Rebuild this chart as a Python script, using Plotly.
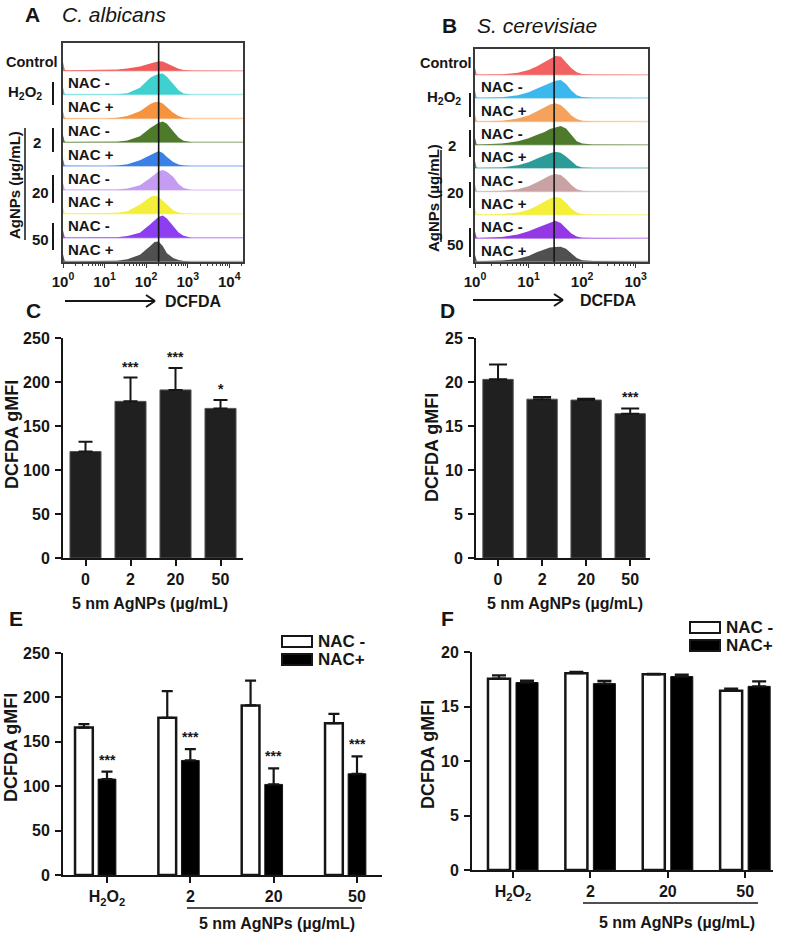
import plotly.graph_objects as go

W, H = 786, 936
FONT = "Liberation Sans, Arial, Helvetica, sans-serif"
INK = "#161616"

# ------------------------------------------------------------------ data
ROW_NAC = ["NAC -", "NAC +", "NAC -", "NAC +", "NAC -", "NAC +", "NAC -", "NAC +"]

# Panel A (C. albicans) flow histograms: log10(DCFDA) grid and normalised heights per row
A_LOGX = [0.0, 0.04, 0.08, 1.0, 1.3, 1.55, 1.85, 2.1, 2.2, 2.3, 2.4, 2.5, 2.65, 2.78, 2.9, 3.1, 4.33]
A_CONTROL = [0.35, 0.05, 0.02, 0.02, 0.05, 0.09, 0.17, 0.30, 0.36, 0.40, 0.38, 0.30, 0.16, 0.08, 0.03, 0.01, 0.0]
A_H2O2_NACM = [0.30, 0.03, 0.01, 0.0, 0.01, 0.05, 0.28, 0.70, 0.80, 0.86, 0.88, 0.75, 0.42, 0.18, 0.04, 0.0, 0.0]
A_H2O2_NACP = [0.30, 0.03, 0.01, 0.0, 0.03, 0.10, 0.30, 0.60, 0.68, 0.70, 0.62, 0.48, 0.24, 0.10, 0.03, 0.0, 0.0]
A_AG2_NACM = [0.30, 0.03, 0.01, 0.0, 0.02, 0.07, 0.25, 0.60, 0.72, 0.82, 0.87, 0.78, 0.46, 0.20, 0.06, 0.0, 0.0]
A_AG2_NACP = [0.30, 0.03, 0.01, 0.0, 0.03, 0.08, 0.24, 0.45, 0.55, 0.63, 0.55, 0.38, 0.17, 0.07, 0.02, 0.0, 0.0]
A_AG20_NACM = [0.30, 0.03, 0.01, 0.0, 0.02, 0.06, 0.20, 0.50, 0.65, 0.78, 0.84, 0.76, 0.55, 0.25, 0.08, 0.0, 0.0]
A_AG20_NACP = [0.30, 0.03, 0.01, 0.01, 0.04, 0.11, 0.39, 0.70, 0.77, 0.70, 0.55, 0.39, 0.15, 0.06, 0.02, 0.0, 0.0]
A_AG50_NACM = [0.30, 0.03, 0.01, 0.0, 0.02, 0.07, 0.21, 0.56, 0.72, 0.88, 0.93, 0.80, 0.49, 0.22, 0.08, 0.0, 0.0]
A_AG50_NACP = [0.30, 0.03, 0.01, 0.01, 0.03, 0.10, 0.28, 0.65, 0.82, 0.84, 0.65, 0.35, 0.15, 0.06, 0.02, 0.0, 0.0]
A_COLORS = ["#f05c5c", "#3fd0d0", "#f59340", "#4e7a2c", "#3a80e6", "#c49cf2", "#f3ef3a", "#8b3ff0", "#505050"]
A_GATE = 200
A_TICKS = [1, 10, 100, 1000, 10000]

# Panel B (S. cerevisiae)
B_LOGX = [0.0, 0.03, 0.06, 0.5, 0.8, 1.0, 1.15, 1.3, 1.4, 1.5, 1.6, 1.7, 1.8, 1.9, 2.0, 2.2, 3.23]
B_CONTROL = [0.30, 0.03, 0.01, 0.02, 0.08, 0.20, 0.35, 0.55, 0.70, 0.80, 0.78, 0.55, 0.28, 0.10, 0.03, 0.01, 0.0]
B_H2O2_NACM = [0.30, 0.03, 0.01, 0.03, 0.12, 0.25, 0.40, 0.55, 0.62, 0.74, 0.77, 0.60, 0.32, 0.12, 0.04, 0.01, 0.0]
B_H2O2_NACP = [0.30, 0.03, 0.01, 0.03, 0.12, 0.25, 0.42, 0.60, 0.72, 0.78, 0.70, 0.50, 0.25, 0.10, 0.03, 0.01, 0.0]
B_AG2_NACM = [0.30, 0.03, 0.01, 0.05, 0.15, 0.28, 0.42, 0.55, 0.68, 0.74, 0.80, 0.70, 0.42, 0.15, 0.05, 0.01, 0.0]
B_AG2_NACP = [0.30, 0.03, 0.01, 0.03, 0.12, 0.25, 0.40, 0.55, 0.64, 0.70, 0.66, 0.50, 0.28, 0.10, 0.03, 0.01, 0.0]
B_AG20_NACM = [0.30, 0.03, 0.01, 0.03, 0.10, 0.22, 0.38, 0.55, 0.68, 0.75, 0.70, 0.52, 0.28, 0.10, 0.03, 0.01, 0.0]
B_AG20_NACP = [0.30, 0.03, 0.01, 0.03, 0.10, 0.22, 0.38, 0.56, 0.70, 0.76, 0.72, 0.52, 0.26, 0.10, 0.03, 0.01, 0.0]
B_AG50_NACM = [0.30, 0.03, 0.01, 0.05, 0.16, 0.30, 0.44, 0.58, 0.68, 0.75, 0.65, 0.42, 0.20, 0.07, 0.02, 0.01, 0.0]
B_AG50_NACP = [0.30, 0.03, 0.01, 0.04, 0.12, 0.24, 0.40, 0.52, 0.60, 0.62, 0.63, 0.55, 0.35, 0.15, 0.05, 0.02, 0.0]
B_COLORS = ["#f26262", "#3bb9ee", "#f5a25c", "#4e7a2c", "#2c9c98", "#c9a3a3", "#f3ef3a", "#9338e2", "#505050"]
B_GATE = 30
B_TICKS = [1, 10, 100, 1000]

# Panel C / D
DOSES = ["0", "2", "20", "50"]
C_MEAN = [121, 178, 191, 170]
C_ERR = [11, 27, 25, 9.5]
C_SIG = ["", "***", "***", "*"]
D_MEAN = [20.3, 18.05, 17.95, 16.4]
D_ERR = [1.7, 0.25, 0.15, 0.6]
D_SIG = ["", "", "", "***"]

# Panel E / F
GROUPS = ["H<sub>2</sub>O<sub>2</sub>", "2", "20", "50"]
E_NACM = [166, 177, 191, 171]
E_NACM_ERR = [4, 30, 28, 10.5]
E_NACP = [108, 129, 102, 114]
E_NACP_ERR = [8.5, 12.7, 18, 19.5]
E_SIG = ["***", "***", "***", "***"]
F_NACM = [17.55, 18.05, 17.95, 16.45]
F_NACM_ERR = [0.3, 0.12, 0.05, 0.2]
F_NACP = [17.2, 17.1, 17.75, 16.85]
F_NACP_ERR = [0.18, 0.25, 0.18, 0.45]


# ------------------------------------------------------------------ helpers
def px(x):
    return x / W


def py(y):
    return 1 - y / H


def tint(hexc, f=0.55):
    r, g, b = int(hexc[1:3], 16), int(hexc[3:5], 16), int(hexc[5:7], 16)
    r, g, b = [int(c + (255 - c) * f) for c in (r, g, b)]
    return f"rgb({r},{g},{b})"


def fnt(size, weight="bold"):
    return dict(family=FONT, size=size, color=INK, weight=weight)


fig = go.Figure()
ann = []
shapes = []


def text(x, y, t, size=16, xanchor="center", yanchor="middle", angle=0, xref="paper", yref="paper", weight="bold"):
    ann.append(dict(x=x, y=y, xref=xref, yref=yref, text=t, showarrow=False, xanchor=xanchor,
                    yanchor=yanchor, textangle=angle, font=fnt(size, weight)))


def pline(x0, y0, x1, y1, w=2, color=INK):
    shapes.append(dict(type="line", xref="paper", yref="paper", x0=px(x0), y0=py(y0), x1=px(x1), y1=py(y1),
                       line=dict(color=color, width=w)))


def prect(x0, y0, x1, y1, fill, w=2):
    shapes.append(dict(type="rect", xref="paper", yref="paper", x0=px(x0), y0=py(y0), x1=px(x1), y1=py(y1),
                       fillcolor=fill, line=dict(color=INK, width=w)))


def hist_panel(logx, rows, colors, gate, xa, ya, top):
    n = len(rows)
    xs = [10 ** v for v in logx]
    for k, (h, c) in enumerate(zip(rows, colors)):
        base = n - 1 - k
        fig.add_trace(go.Scatter(x=[xs[0], xs[-1]], y=[base, base], mode="lines",
                                 line=dict(color=tint(c), width=1.5), xaxis=xa, yaxis=ya,
                                 hoverinfo="skip", showlegend=False))
        fig.add_trace(go.Scatter(x=xs + [xs[-1], xs[0]], y=[base + v for v in h] + [base, base],
                                 mode="lines", fill="toself", fillcolor=c, line=dict(width=0, color=c),
                                 xaxis=xa, yaxis=ya, showlegend=False))
    fig.add_trace(go.Scatter(x=[gate, gate], y=[-1, top + 1], mode="lines", line=dict(color=INK, width=1.6),
                             xaxis=xa, yaxis=ya, showlegend=False, hoverinfo="skip"))


# ------------------------------------------------------------------ A & B histograms
A_ROWS = [A_CONTROL, A_H2O2_NACM, A_H2O2_NACP, A_AG2_NACM, A_AG2_NACP, A_AG20_NACM, A_AG20_NACP, A_AG50_NACM, A_AG50_NACP]
B_ROWS = [B_CONTROL, B_H2O2_NACM, B_H2O2_NACP, B_AG2_NACM, B_AG2_NACP, B_AG20_NACM, B_AG20_NACP, B_AG50_NACM, B_AG50_NACP]
A_TOP, B_TOP = 9.16, 9.1
hist_panel(A_LOGX, A_ROWS, A_COLORS, A_GATE, "x", "y", A_TOP)
hist_panel(B_LOGX, B_ROWS, B_COLORS, B_GATE, "x2", "y2", B_TOP)


def sup_ticks(vals):
    return [f"10<sup>{len(str(v)) - 1}</sup>" for v in vals]


def minor_vals(ndec):
    return [m * 10 ** d for d in range(ndec + 1) for m in range(2, 10)]


hist_x = dict(type="log", showline=True, mirror=True, linecolor="#3a3a3a", linewidth=1.5, ticks="outside",
              ticklen=4, tickwidth=1.2, tickcolor="#3a3a3a", showgrid=False, zeroline=False,
              tickfont=fnt(15), ticklabelstandoff=1)
hist_y = dict(showline=True, mirror=True, linecolor="#3a3a3a", linewidth=1.5, ticks="", showticklabels=False,
              showgrid=False, zeroline=False)

# row labels inside histograms
for k, lab in enumerate(ROW_NAC):
    base_a = 7 - k
    text(px(66), base_a + 0.5, lab, xanchor="left", yref="y", size=15)
    text(px(479), base_a + 0.48, lab, xanchor="left", yref="y2", size=15)
text(px(60), 8 + 0.38, "Control", xanchor="right", yref="y", size=14.5)
text(px(474), 8 + 0.5, "Control", xanchor="right", yref="y2", size=14.5)

# group labels + brackets A
text(px(25), py(93), "H<sub>2</sub>O<sub>2</sub>", size=15)
pline(53, 82, 53, 105)
text(px(15), py(185), "AgNPs (µg/mL)", angle=-90, size=15)
pline(25, 128, 25, 240, w=1.5)
text(px(31), py(142), "2", xanchor="left", size=15)
pline(53, 128, 53, 152)
text(px(40), py(193), "20", size=15)
pline(53, 175, 53, 203)
text(px(40), py(240), "50", size=15)
pline(53, 223, 53, 250)

# group labels + brackets B
text(px(444), py(98), "H<sub>2</sub>O<sub>2</sub>", size=15)
pline(470, 93, 470, 117)
text(px(433), py(198), "AgNPs (µg/mL)", angle=-90, size=15)
pline(441, 150, 441, 242, w=1.5)
text(px(446), py(145), "2", xanchor="left", size=15)
pline(470, 130, 470, 157)
text(px(455), py(193), "20", size=15)
pline(470, 182, 470, 208)
text(px(455), py(245), "50", size=15)
pline(470, 228, 470, 257)

# arrows DCFDA
for x0, x1, tx, yy in [(65, 155, 163, 301), (473, 563, 578, 300)]:
    pline(x0, yy, x1, yy, w=2)
    pline(x1 - 9, yy - 6, x1, yy, w=2)
    pline(x1 - 9, yy + 6, x1, yy, w=2)
    text(px(tx), py(yy + 1), "DCFDA", xanchor="left", size=16)

# titles & panel letters
text(px(32), py(15), "A", size=21)
text(px(60), py(15), "<i>C. albicans</i>", size=21, xanchor="left", weight="normal")
text(px(449), py(25), "B", size=21)
text(px(475), py(25), "<i>S. cerevisiae</i>", size=21, xanchor="left", weight="normal")
text(px(33), py(311), "C", size=21)
text(px(447), py(311), "D", size=21)
text(px(16), py(618), "E", size=21)
text(px(447), py(618), "F", size=21)

# ------------------------------------------------------------------ C & D bar charts
bar_fill = "#202020"
POS = list(range(len(DOSES)))


def simple_bars(means, errs, sig, xa, ya, cap):
    fig.add_trace(go.Bar(x=DOSES, y=means, width=0.69, marker=dict(color=bar_fill, line=dict(color="#555", width=1)),
                         error_y=dict(type="data", array=errs, arrayminus=[0] * len(errs), symmetric=False,
                                      color=INK, thickness=2, width=cap),
                         xaxis=xa, yaxis=ya, showlegend=False))
    for i, m, e, s in zip(POS, means, errs, sig):
        if s:
            ann.append(dict(x=i, y=m + e, xref=xa, yref=ya, text=s, showarrow=False, yanchor="middle", yshift=11,
                            font=fnt(14)))


simple_bars(C_MEAN, C_ERR, C_SIG, "x3", "y3", 7)
simple_bars(D_MEAN, D_ERR, D_SIG, "x4", "y4", 9)

bar_x = dict(showline=True, linecolor=INK, linewidth=2, ticks="outside", ticklen=6, tickwidth=2, tickcolor=INK,
             showgrid=False, zeroline=False, tickfont=fnt(16))
bar_y = dict(showline=True, linecolor=INK, linewidth=2, ticks="outside", ticklen=6, tickwidth=2, tickcolor=INK,
             showgrid=False, zeroline=False, tickfont=fnt(16), ticklabelstandoff=2)

text(px(12), py(435), "DCFDA gMFI", angle=-90, size=18)
text(px(432), py(448), "DCFDA gMFI", angle=-90, size=18)
text(px(150), py(603), "5 nm AgNPs (µg/mL)", size=16)
text(px(565), py(603), "5 nm AgNPs (µg/mL)", size=16)

# ------------------------------------------------------------------ E & F grouped bars
IDX = list(range(len(GROUPS)))


def grouped(m_vals, m_err, p_vals, p_err, xa, ya, off_m, off_p, width, cap, sig=None):
    xm = [i + off_m for i in IDX]
    xp = [i + off_p for i in IDX]
    fig.add_trace(go.Bar(x=xm, y=m_vals, width=width, marker=dict(color="white", line=dict(color=INK, width=2.5)),
                         error_y=dict(type="data", array=m_err, arrayminus=[0] * 4, symmetric=False, color=INK,
                                      thickness=2.2, width=cap), xaxis=xa, yaxis=ya, showlegend=False))
    fig.add_trace(go.Bar(x=xp, y=p_vals, width=width, marker=dict(color="black", line=dict(color=INK, width=1)),
                         error_y=dict(type="data", array=p_err, arrayminus=[0] * 4, symmetric=False, color=INK,
                                      thickness=2.2, width=cap), xaxis=xa, yaxis=ya, showlegend=False))
    if sig:
        for x, v, e, s in zip(xp, p_vals, p_err, sig):
            ann.append(dict(x=x, y=v + e, xref=xa, yref=ya, text=s, showarrow=False, yanchor="middle", yshift=12,
                            font=fnt(14)))


grouped(E_NACM, E_NACM_ERR, E_NACP, E_NACP_ERR, "x5", "y5", -0.277, 0.0, 0.213, 5.5, E_SIG)
grouped(F_NACM, F_NACM_ERR, F_NACP, F_NACP_ERR, "x6", "y6", -0.181, 0.181, 0.285, 7)

text(px(11), py(748), "DCFDA gMFI", angle=-90, size=18)
text(px(428), py(755), "DCFDA gMFI", angle=-90, size=18)

# legends
prect(282, 636, 312, 647, "white")
prect(282, 654, 312, 665, "black")
text(px(316), py(641), "NAC -", xanchor="left", size=17)
text(px(316), py(659), "NAC+", xanchor="left", size=17)
prect(690, 622, 720, 633, "white")
prect(690, 640, 720, 651, "black")
text(px(724), py(627), "NAC -", xanchor="left", size=17)
text(px(724), py(645), "NAC+", xanchor="left", size=17)

# AgNP underline
pline(187, 908, 362, 908, w=1.5)
text(px(277), py(923), "5 nm AgNPs (µg/mL)", size=16)
pline(583, 903, 758, 903, w=1.5)
text(px(677), py(922), "5 nm AgNPs (µg/mL)", size=16)

# ------------------------------------------------------------------ layout
layout = dict(
    width=W, height=H, margin=dict(l=0, r=0, t=0, b=0, pad=0, autoexpand=False),
    paper_bgcolor="white", plot_bgcolor="rgba(0,0,0,0)",
    barmode="overlay", showlegend=False, font=dict(family=FONT, color=INK),
    xaxis=dict(hist_x, domain=[px(63), px(243)], range=[0, 4.33], tickvals=A_TICKS, ticktext=sup_ticks(A_TICKS),
               minor=dict(tickmode="array", tickvals=minor_vals(4), ticks="outside", ticklen=2.5, tickcolor="#3a3a3a"),
               anchor="y"),
    yaxis=dict(hist_y, domain=[py(262), py(43)], range=[-0.02, A_TOP], anchor="x"),
    xaxis2=dict(hist_x, domain=[px(475), px(648)], range=[0, 3.23], tickvals=B_TICKS, ticktext=sup_ticks(B_TICKS),
                minor=dict(tickmode="array", tickvals=minor_vals(3), ticks="outside", ticklen=2.5, tickcolor="#3a3a3a"),
                anchor="y2"),
    yaxis2=dict(hist_y, domain=[py(262), py(49)], range=[-0.02, B_TOP], anchor="x2"),
    xaxis3=dict(bar_x, domain=[px(63), px(243)], type="category", range=[-0.5, 3.5], anchor="y3"),
    yaxis3=dict(bar_y, domain=[py(558), py(338)], range=[0, 250], dtick=50, anchor="x3"),
    xaxis4=dict(bar_x, domain=[px(476), px(650)], type="category", range=[-0.5, 3.45], anchor="y4"),
    yaxis4=dict(bar_y, domain=[py(558), py(338)], range=[0, 25], dtick=5, anchor="x4"),
    xaxis5=dict(bar_x, domain=[px(63), px(382)], range=[-0.528, 3.30], tickvals=IDX, ticktext=GROUPS, anchor="y5"),
    yaxis5=dict(bar_y, domain=[py(875), py(653)], range=[0, 250], dtick=50, anchor="x5"),
    xaxis6=dict(bar_x, domain=[px(472), px(773)], range=[-0.53, 3.36], tickvals=IDX, ticktext=GROUPS, anchor="y6"),
    yaxis6=dict(bar_y, domain=[py(870), py(652)], range=[0, 20], dtick=5, anchor="x6"),
    annotations=ann, shapes=shapes,
)
fig.update_layout(**layout)
fig.write_html("out.html", config={"displayModeBar": False},
               post_script="document.body.style.margin='0px';")
